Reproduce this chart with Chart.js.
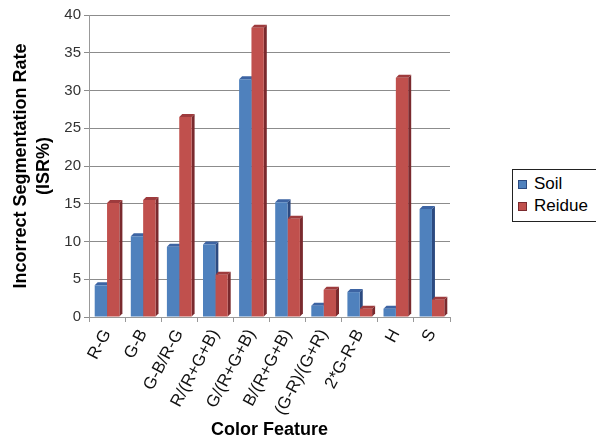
<!DOCTYPE html>
<html>
<head>
<meta charset="utf-8">
<script src="https://cdn.jsdelivr.net/npm/chart.js@4/dist/chart.umd.min.js"></script>
<style>
  html, body { margin: 0; padding: 0; background: #fff; }
  #wrap { position: relative; width: 596px; height: 441px; }
  #legend {
    position: absolute; left: 512px; top: 169px; width: 83px; height: 51px;
    border: 1px solid #222; background: #fff;
    font-family: "Liberation Sans", Arial, sans-serif; font-size: 17px; color: #000;
  }
  #legend div { position: absolute; left: 5px; height: 20px; line-height: 20px; white-space: nowrap; }
  #legend span.sw { display: inline-block; width: 9px; height: 9px; margin-right: 7px; vertical-align: 0px; box-sizing: border-box; }
</style>
</head>
<body>
<div id="wrap">
  <canvas id="chart" width="596" height="441"></canvas>
  <div id="legend"></div>
</div>
<script>
const categories = ['R-G', 'G-B', 'G-B/R-G', 'R/(R+G+B)', 'G/(R+G+B)', 'B/(R+G+B)', '(G-R)/(G+R)', '2*G-R-B', 'H', 'S'];
const soil   = [4.2, 10.7, 9.3, 9.6, 31.5, 15.2, 1.5, 3.3, 1.1, 14.3];
const reidue = [15.1, 15.5, 26.5, 5.6, 38.3, 13.0, 3.6, 1.1, 31.7, 2.3];
const yTicks = [0, 5, 10, 15, 20, 25, 30, 35, 40];

const FONT = '"Liberation Sans", Arial, sans-serif';
const DEPTH = 3;

// side / top shades for the fake 3D look
const shades = {
  '#4F81BD': { side: '#2C4A80', top: '#3D64A3' },
  '#C0504D': { side: '#7A2A2E', top: '#9E3B3D' }
};

const bars3d = {
  id: 'bars3d',
  beforeDatasetsDraw(chart) {
    const ctx = chart.ctx;
    chart.data.datasets.forEach((ds, i) => {
      const meta = chart.getDatasetMeta(i);
      const sh = shades[ds.backgroundColor];
      meta.data.forEach(bar => {
        const { x, y, base, width } = bar.getProps(['x', 'y', 'base', 'width'], true);
        const l = x - width / 2, r = x + width / 2;
        ctx.save();
        ctx.fillStyle = sh.side;
        ctx.beginPath();
        ctx.moveTo(r, y);
        ctx.lineTo(r + DEPTH, y - DEPTH);
        ctx.lineTo(r + DEPTH, base - DEPTH);
        ctx.lineTo(r, base);
        ctx.closePath();
        ctx.fill();
        ctx.fillStyle = sh.top;
        ctx.beginPath();
        ctx.moveTo(l, y);
        ctx.lineTo(l + DEPTH, y - DEPTH);
        ctx.lineTo(r + DEPTH, y - DEPTH);
        ctx.lineTo(r, y);
        ctx.closePath();
        ctx.fill();
        ctx.restore();
      });
    });
  }
};

const chart = new Chart(document.getElementById('chart'), {
  type: 'bar',
  data: {
    labels: categories,
    datasets: [
      { label: 'Soil', data: soil, backgroundColor: '#4F81BD', borderWidth: 0 },
      { label: 'Reidue', data: reidue, backgroundColor: '#C0504D', borderWidth: 0 }
    ]
  },
  options: {
    responsive: false,
    animation: false,
    devicePixelRatio: 1,
    layout: { padding: { top: 15, right: 146, bottom: 0, left: 0 } },
    datasets: { bar: { categoryPercentage: 0.684, barPercentage: 1 } },
    plugins: {
      legend: { display: false },
      tooltip: { enabled: false }
    },
    scales: {
      x: {
        afterFit: s => { s.height = 124; },
        grid: { drawOnChartArea: false, tickLength: 5, color: '#999', offset: true },
        border: { color: '#999' },
        ticks: {
          color: '#111',
          font: { family: FONT, size: 17 },
          minRotation: 62, maxRotation: 62,
          autoSkip: false, padding: 4
        },
        title: {
          display: true, text: 'Color Feature', color: '#000',
          font: { family: FONT, size: 18, weight: 'bold' },
          padding: { top: 0, bottom: 0 }
        }
      },
      y: {
        min: 0, max: 40,
        afterFit: s => { s.width = 89; },
        afterBuildTicks: s => { s.ticks = yTicks.map(v => ({ value: v })); },
        grid: { color: '#8c8c8c', tickLength: 5 },
        border: { color: '#999' },
        ticks: { color: '#333', font: { family: FONT, size: 15 }, padding: 3 },
        title: {
          display: true, text: ['Incorrect Segmentation Rate', '(ISR%)'], color: '#000',
          font: { family: FONT, size: 18, weight: 'bold', lineHeight: 1.3 },
          padding: { top: 9, bottom: 0 }
        }
      }
    }
  },
  plugins: [bars3d]
});

// legend built from the chart's datasets
const legendEl = document.getElementById('legend');
chart.data.datasets.forEach((ds, i) => {
  const item = document.createElement('div');
  item.style.top = (4 + i * 22) + 'px';
  const sw = document.createElement('span');
  sw.className = 'sw';
  sw.style.background = ds.backgroundColor;
  sw.style.border = '1px solid ' + shades[ds.backgroundColor].side;
  item.appendChild(sw);
  item.appendChild(document.createTextNode(ds.label));
  legendEl.appendChild(item);
});
</script>
</body>
</html>
